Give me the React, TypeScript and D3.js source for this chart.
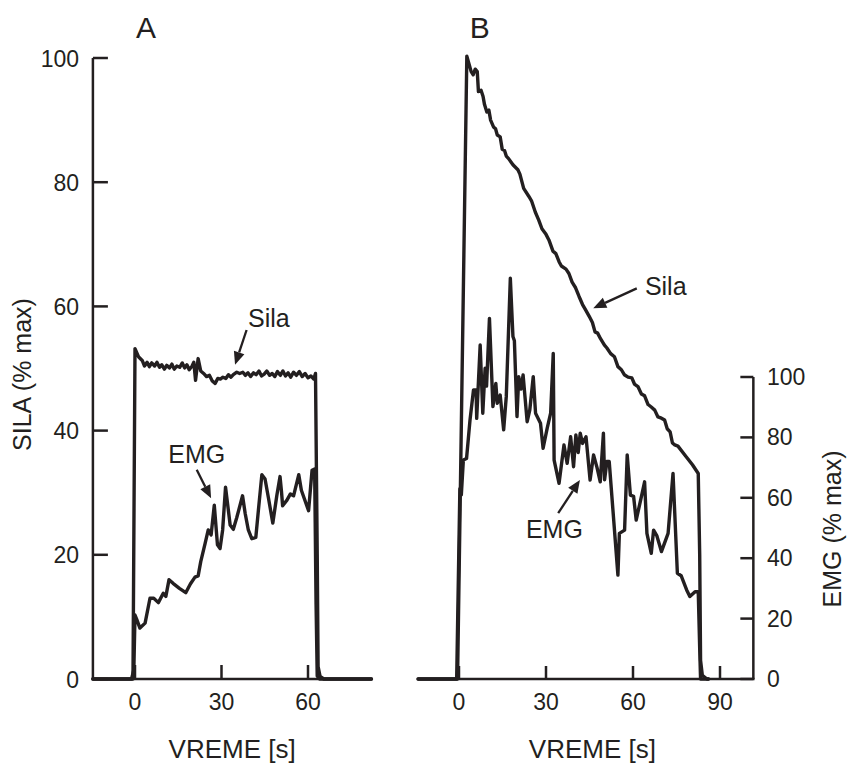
import React from "react";
import * as d3 from "d3";

// ---- Data (time [s], value [% max]) ----
const silaA: [number, number][] = [
  [-14.6, 0], [-0.7, 0], [0, 53.2], [1.2, 51.9], [2.5, 51.3], [3.3, 50.4], [4.2, 51.0], [5, 50.3], [5.8, 50.9],
  [6.8, 50.4], [7.6, 51.0], [8.5, 50.2], [9.3, 50.6], [10.2, 49.9], [11, 50.5], [12, 50.1], [12.8, 50.7],
  [13.6, 49.9], [14.5, 50.4], [15.5, 50.2], [16.4, 50.9], [17.2, 50.1], [18, 50.6], [18.8, 49.8], [19.8, 50.4],
  [20.4, 51.0], [21.0, 48.1], [21.9, 51.6], [22.8, 49.6], [23.8, 49.2], [24.8, 48.7], [25.8, 48.9], [26.8, 48.0],
  [27.8, 47.6], [28.7, 48.4], [29.6, 48.3], [30.5, 48.6], [31.5, 48.4], [32.4, 49.0], [33.3, 48.6], [34.1, 49.0],
  [35.3, 49.4], [36.3, 49.2], [37.4, 49.4], [38.3, 48.9], [39.2, 49.3], [40.1, 48.7], [41.1, 49.3], [42.0, 49.0],
  [43.0, 49.6], [43.9, 48.8], [44.8, 49.1], [45.7, 49.6], [46.7, 48.9], [47.6, 49.2], [48.5, 48.7], [49.4, 49.5],
  [50.4, 48.9], [51.3, 49.6], [52.2, 48.8], [53.1, 49.3], [54, 48.6], [55, 49.4], [56, 48.9], [57, 49.5],
  [58, 48.7], [59, 49.2], [60, 48.5], [61, 48.8], [62, 48.3], [62.6, 49.2], [63.2, 20], [63.5, 2], [64.2, 0.4],
  [65.5, 0], [82, 0],
];

const emgA: [number, number][] = [
  [-14.6, 0], [-1.2, 0], [-0.4, 1.5], [0, 10.3], [0.6, 9.6], [1.7, 8.2], [3.5, 9.0], [5.2, 13.0], [6.5, 13.0],
  [8.1, 12.3], [9.8, 13.8], [10.7, 13.3], [11.8, 16.0], [13.2, 15.4], [15.4, 14.6], [17.6, 13.9], [19.2, 15.3],
  [20.8, 16.4], [21.9, 16.6], [22.8, 18.9], [24.3, 21.8], [25.4, 24.0], [26.4, 23.2], [27.5, 28.0], [28.6, 21.6],
  [29.5, 21.0], [30.4, 24.0], [31.4, 30.9], [33.0, 24.8], [34.1, 24.1], [35.3, 26.0], [37.3, 29.5], [38.2, 26.7],
  [39.3, 24.0], [40.5, 22.6], [41.9, 22.8], [42.8, 27.2], [44.0, 32.9], [45.1, 32.2], [46.3, 29.1], [47.8, 25.1],
  [49.2, 29.6], [50.3, 32.6], [50.8, 30.2], [51.2, 27.9], [52.7, 28.8], [53.9, 29.8], [55.0, 29.5], [56.8, 32.9],
  [57.7, 30.4], [60.2, 27.1], [61.4, 33.6], [62.3, 33.8], [62.8, 12], [63.2, 0.5], [64, 0], [82, 0],
];

const silaB: [number, number][] = [
  [-14.1, 0], [-0.5, 0], [2.7, 100.3], [4.2, 97.8], [4.9, 97.3], [5.6, 98.2], [6.3, 97.8], [6.7, 94.6],
  [7.6, 94.8], [8.3, 93.8], [8.8, 92.5], [9.6, 91.3], [10.3, 91.6], [10.9, 90.0], [11.9, 88.9], [12.6, 88.6],
  [13.2, 87.6], [14.2, 87.3], [14.9, 85.3], [15.7, 85.1], [16.3, 84.2], [17.1, 83.8], [18.6, 82.8], [20.3, 82.0],
  [21.0, 81.3], [22.3, 79.0], [24.1, 77.7], [25.0, 77.0], [26.3, 75.2], [27.5, 73.9], [28.6, 72.5], [30.0, 71.6],
  [31.0, 70.7], [32.4, 68.9], [33.4, 68.5], [34.5, 67.2], [35.3, 66.5], [36.9, 66.0], [37.9, 65.3], [39.0, 63.9],
  [40.2, 63.0], [41.4, 61.6], [42.6, 60.3], [43.7, 59.4], [44.9, 58.4], [46.0, 57.4], [46.9, 55.9], [47.8, 55.7],
  [48.8, 54.8], [50.1, 53.8], [51.0, 53.3], [52.3, 52.4], [53.6, 51.9], [54.8, 50.3], [56.0, 49.8], [57.0, 49.0],
  [58.3, 48.6], [59.6, 48.5], [60.5, 47.5], [61.7, 47.1], [62.9, 45.9], [64.0, 45.6], [65.2, 44.2], [66.3, 43.8],
  [67.5, 43.3], [68.6, 42.2], [69.8, 42.0], [70.9, 41.7], [71.8, 40.3], [72.8, 39.8], [73.6, 38.0], [74.4, 37.7],
  [75.5, 37.5], [78, 36.0], [80.5, 34.5], [82.5, 33.1], [83.0, 20], [83.3, 3], [83.9, 0.6], [85.5, 0], [86, 0],
];

const emgB: [number, number][] = [
  [-14.1, 0], [-0.8, 0], [0.3, 63], [0.8, 61], [1.5, 72.5], [2.6, 73], [3.8, 85.8], [5.0, 95.7], [5.9, 95.7],
  [6.1, 86.3], [7.3, 110.6], [8.2, 88.0], [9.0, 102.9], [9.5, 97], [10.5, 119.4], [11.7, 90.2], [12.7, 97.9],
  [13.2, 91.3], [14.2, 94.0], [15.4, 82.5], [16.3, 93.5], [17.7, 132.7], [18.6, 113.4], [19.1, 112], [20.0, 86.9],
  [20.6, 100.1], [21.4, 96], [22.1, 100.7], [23.5, 85.2], [24.4, 89], [25.6, 100.1], [26.4, 88.0], [28.1, 84.7],
  [29.0, 76.4], [30.4, 83], [31.6, 88.0], [32.5, 107.8], [32.8, 72.5], [34.5, 64.8], [36.2, 77.5], [37.3, 71.4],
  [38.5, 80.2], [39.5, 70.3], [40.3, 80.8], [41.1, 75], [41.8, 81.4], [42.6, 78], [43.8, 80.2], [45.2, 65.9],
  [46.4, 74.2], [47.6, 70], [48.7, 65.3], [49.8, 81.4], [50.2, 66], [51.0, 72], [51.8, 72], [54.8, 34.4],
  [55.3, 48.2], [57.1, 49.3], [58.0, 74.2], [59.1, 60.9], [60.2, 60.5], [61.1, 52.6], [62.8, 60], [64.0, 65.3],
  [64.8, 48.2], [66.3, 41.6], [67.1, 49.3], [68.2, 47.5], [69.8, 42.2], [72.1, 48.2], [73.8, 68.1], [75.3, 35],
  [76.6, 34.2], [78.5, 29.5], [79.6, 27.3], [81.4, 28.9], [82.5, 28.9], [83.0, 10], [83.3, 0], [86, 0],
];

const ticksXA = [0, 30, 60];
const ticksXB = [0, 30, 60, 90];
const ticksLeft = [0, 20, 40, 60, 80, 100];
const ticksRight = [0, 20, 40, 60, 80, 100];

const domainA: [number, number] = [-14.6, 82];
const domainB: [number, number] = [-14.1, 101.5];

const INK = "#231f20";
const FONT = "'Liberation Sans', Arial, Helvetica, sans-serif";

function Arrow({ x1, y1, x2, y2 }: { x1: number; y1: number; x2: number; y2: number }) {
  const dx = x2 - x1, dy = y2 - y1;
  const len = Math.hypot(dx, dy);
  const ux = dx / len, uy = dy / len;
  const hl = 13, hw = 5.5;
  const bx = x2 - ux * hl, by = y2 - uy * hl;
  const pts = [
    [x2, y2],
    [bx - uy * hw, by + ux * hw],
    [bx + uy * hw, by - ux * hw],
  ];
  return (
    <g>
      <line x1={x1} y1={y1} x2={bx} y2={by} stroke={INK} strokeWidth={2.3} />
      <polygon points={pts.map((p) => p.join(",")).join(" ")} fill={INK} />
    </g>
  );
}

export default function App() {
  const xA = d3.scaleLinear().domain([0, 60]).range([135, 308]);
  const xB = d3.scaleLinear().domain([0, 90]).range([459, 720]);
  const yL = d3.scaleLinear().domain([0, 100]).range([679, 58]);
  const yR = d3.scaleLinear().domain([0, 100]).range([679, 377]);

  const lineA = d3.line<[number, number]>().x((d) => xA(d[0])).y((d) => yL(d[1]));
  const lineBL = d3.line<[number, number]>().x((d) => xB(d[0])).y((d) => yL(d[1]));
  const lineBR = d3.line<[number, number]>().x((d) => xB(d[0])).y((d) => yR(d[1]));

  const baseY = yL(0);
  const tickFont = 23;
  const labelFont = 25;

  return (
    <svg
      width={847}
      height={763}
      style={{ position: "absolute", left: 0, top: 0, background: "#fff" }}
      fontFamily={FONT}
      fill={INK}
    >
      {/* Panel letters */}
      <text x={xA(3.8)} y={38} fontSize={30} textAnchor="middle">A</text>
      <text x={xB(7.2)} y={38} fontSize={30} textAnchor="middle">B</text>

      {/* Panel A axes */}
      <g stroke={INK} strokeWidth={2.5} fill="none">
        <line x1={xA(domainA[0])} y1={yL(100)} x2={xA(domainA[0])} y2={baseY} />
        <line x1={xA(domainA[0]) - 1.2} y1={baseY} x2={xA(domainA[1])} y2={baseY} />
        {ticksLeft.map((t) => (
          <line key={t} x1={xA(domainA[0])} x2={xA(domainA[0]) + 15} y1={yL(t)} y2={yL(t)} />
        ))}
        {ticksXA.map((t) => (
          <line key={t} x1={xA(t)} x2={xA(t)} y1={baseY} y2={baseY - 14} />
        ))}
      </g>
      {ticksLeft.map((t) => (
        <text key={t} x={79} y={yL(t) + 8.5} fontSize={tickFont} textAnchor="end">{t}</text>
      ))}
      {ticksXA.map((t) => (
        <text key={t} x={xA(t)} y={710} fontSize={tickFont} textAnchor="middle">{t}</text>
      ))}

      {/* Panel B axes */}
      <g stroke={INK} strokeWidth={2.5} fill="none">
        <line x1={xB(domainB[0])} y1={baseY} x2={xB(domainB[1]) + 1.2} y2={baseY} />
        <line x1={xB(domainB[1])} y1={yR(100)} x2={xB(domainB[1])} y2={baseY} />
        {ticksRight.map((t) => (
          <line key={t} x1={xB(domainB[1])} x2={xB(domainB[1]) - 13} y1={yR(t)} y2={yR(t)} />
        ))}
        {ticksXB.map((t) => (
          <line key={t} x1={xB(t)} x2={xB(t)} y1={baseY} y2={baseY - 13} />
        ))}
      </g>
      {ticksRight.map((t) => (
        <text key={t} x={767} y={yR(t) + 8} fontSize={tickFont} textAnchor="start">{t}</text>
      ))}
      {ticksXB.map((t) => (
        <text key={t} x={xB(t)} y={710} fontSize={tickFont} textAnchor="middle">{t}</text>
      ))}

      {/* Axis titles */}
      <text
        transform={`translate(31, ${(yL(100) + yL(0)) / 2 + 6}) rotate(-90)`}
        fontSize={labelFont}
        textAnchor="middle"
      >
        SILA (% max)
      </text>
      <text
        transform={`translate(841, ${yR(50) + 1}) rotate(-90)`}
        fontSize={labelFont}
        textAnchor="middle"
      >
        EMG (% max)
      </text>
      <text x={(xA(domainA[0]) + xA(domainA[1])) / 2} y={758} fontSize={26} textAnchor="middle">VREME [s]</text>
      <text x={xB(46)} y={758} fontSize={26} textAnchor="middle">VREME [s]</text>

      {/* Traces */}
      <g fill="none" stroke={INK} strokeWidth={3.4} strokeLinejoin="round" strokeLinecap="round">
        <path d={lineA(emgA) || ""} />
        <path d={lineA(silaA) || ""} />
        <path d={lineBR(emgB) || ""} />
        <path d={lineBL(silaB) || ""} />
      </g>

      {/* Annotations A */}
      <text x={xA(39.2)} y={yL(56.7)} fontSize={labelFont} textAnchor="start">Sila</text>
      <Arrow x1={xA(38.7)} y1={yL(56.2)} x2={xA(34.7)} y2={yL(50.6)} />
      <text x={xA(21.4)} y={yL(34.8)} fontSize={labelFont} textAnchor="middle">EMG</text>
      <Arrow x1={xA(21.4)} y1={yL(33.7)} x2={xA(26.4)} y2={yL(29.1)} />

      {/* Annotations B */}
      <text x={xB(64.1)} y={yL(61.8)} fontSize={labelFont} textAnchor="start">Sila</text>
      <Arrow x1={xB(61.3)} y1={yL(62.9)} x2={xB(46.3)} y2={yL(59.7)} />
      <text x={xB(32.9)} y={yR(46.7)} fontSize={labelFont} textAnchor="middle">EMG</text>
      <Arrow x1={xB(34.2)} y1={yR(54.9)} x2={xB(41.7)} y2={yR(65.9)} />
    </svg>
  );
}
